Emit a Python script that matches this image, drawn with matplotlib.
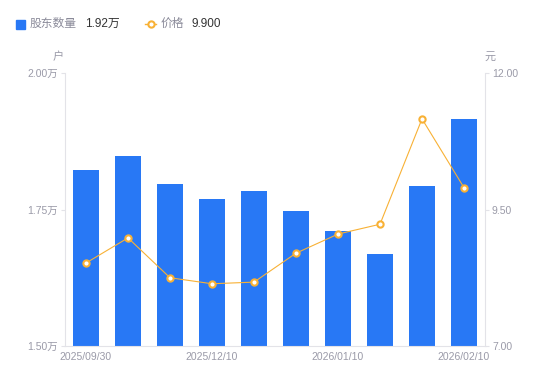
import matplotlib
matplotlib.use("Agg")
import matplotlib.pyplot as plt
from matplotlib.lines import Line2D

plt.rcParams['font.family'] = ['Liberation Sans', 'Noto Sans CJK SC', 'DejaVu Sans']

dates = ["2025/09/30", "2025/10/31", "2025/11/20", "2025/12/10", "2025/12/20",
         "2025/12/31", "2026/01/10", "2026/01/20", "2026/01/31", "2026/02/10"]
holders = [1.822, 1.848, 1.797, 1.769, 1.784, 1.747, 1.711, 1.668, 1.793, 1.916]
price = [8.52, 8.98, 8.25, 8.14, 8.17, 8.70, 9.05, 9.23, 11.16, 9.90]
shown_ticks = [0, 3, 6, 9]
left_ticks = [1.50, 1.75, 2.00]
right_ticks = [7.00, 9.50, 12.00]

BLUE = "#2878F5"
ORANGE = "#F8B135"
GREY = "#9a9aa8"
AXC = "#e3e3e8"

fig = plt.figure(figsize=(5.5, 3.81), dpi=100)
ax = fig.add_axes([65/550, 1-346/381, 420/550, 273/381])
ax2 = ax.twinx()

x = list(range(len(dates)))
ax.bar(x, holders, width=0.6, color=BLUE, zorder=2)
ax.set_ylim(1.5, 2.0)
ax.set_xlim(-0.5, len(dates)-0.5)
ax.set_yticks(left_ticks)
ax.set_yticklabels([f"{v:.2f}万" for v in left_ticks])
ax.set_xticks([x[i] for i in shown_ticks])
ax.set_xticklabels([dates[i] for i in shown_ticks])

ax2.plot(x, price, color=ORANGE, lw=0.8, marker='o', ms=4.5, mfc='white',
         mec=ORANGE, mew=1.5, zorder=3)
ax2.set_ylim(7, 12)
ax2.set_yticks(right_ticks)
ax2.set_yticklabels([f"{v:.2f}" for v in right_ticks])

for a in (ax, ax2):
    for s in a.spines.values():
        s.set_visible(False)
    a.tick_params(colors=GREY, labelsize=7.5, length=3, width=0.8, color=AXC, pad=2)
ax.spines['left'].set_visible(True)
ax.spines['left'].set_color(AXC)
ax.spines['bottom'].set_visible(True)
ax.spines['bottom'].set_color(AXC)
ax2.spines['right'].set_visible(True)
ax2.spines['right'].set_color(AXC)
ax.tick_params(axis='x', length=0, pad=4)

fig.text(58/550, 1-57/381, "户", color=GREY, fontsize=8, ha='center', va='center')
fig.text(490/550, 1-57/381, "元", color=GREY, fontsize=8, ha='center', va='center')

# legend
fig.patches.append(plt.Rectangle((16/550, 1-29/381), 9/550, 9/381, transform=fig.transFigure,
                                 color=BLUE, figure=fig))
fig.text(30/550, 1-24/381, "股东数量", color="#8a8a99", fontsize=8.5, va='center')
fig.text(85/550, 1-24/381, f"{holders[-1]:.2f}万", color="#333333", fontsize=8.5, va='center')
fig.lines.append(Line2D([145/550, 156/550], [1-24/381, 1-24/381], transform=fig.transFigure,
                        color=ORANGE, lw=1, figure=fig))
fig.lines.append(Line2D([150.5/550], [1-24/381], transform=fig.transFigure, marker='o', ms=4.5,
                        mfc='white', mec=ORANGE, mew=1.5, lw=0, figure=fig))
fig.text(161/550, 1-24/381, "价格", color="#8a8a99", fontsize=8.5, va='center')
fig.text(191/550, 1-24/381, f"{price[-1]:.3f}", color="#333333", fontsize=8.5, va='center')

fig.savefig("out.png", dpi=100)
